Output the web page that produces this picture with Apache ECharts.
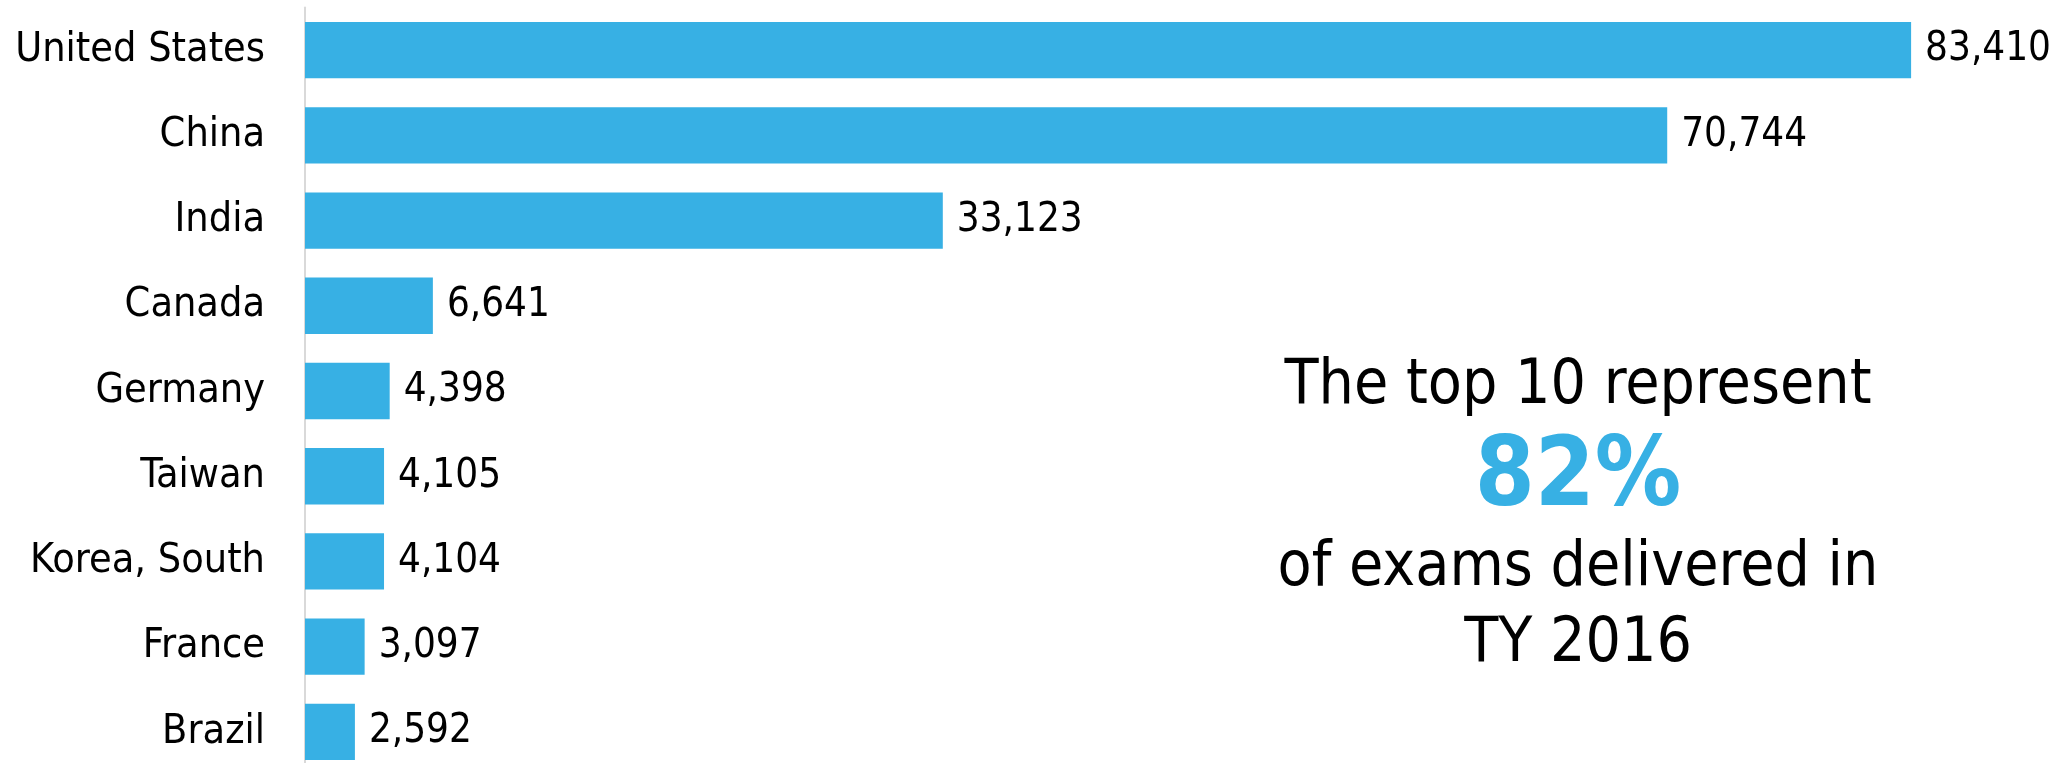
<!DOCTYPE html>
<html>
<head>
<meta charset="utf-8">
<title>Exams delivered by country, TY 2016</title>
<script src="https://cdn.jsdelivr.net/npm/echarts@6/dist/echarts.min.js"></script>
<style>
  html, body { margin: 0; padding: 0; background: #ffffff; }
  #chart { width: 2067px; height: 763px; }
</style>
</head>
<body>
<div id="chart"></div>
<script>
// Countries, ordered from largest to smallest exam count
const countries = ['United States', 'China', 'India', 'Canada', 'Germany', 'Taiwan', 'Korea, South', 'France', 'Brazil'];
// Exams delivered per country
const exams = [83410, 70744, 33123, 6641, 4398, 4105, 4104, 3097, 2592];
// Call-out text beside the bars
const noteLines = ['The top 10 represent', '82%', 'of exams delivered in', 'TY 2016'];

const BLUE = '#37b0e4';
const FONT = '"DejaVu Sans Condensed", "DejaVu Sans", sans-serif';

const chart = echarts.init(document.getElementById('chart'), null, { renderer: 'canvas' });

const fmt = v => v.toLocaleString('en-US');

chart.setOption({
  animation: false,
  backgroundColor: '#ffffff',
  grid: {
    left: 305,
    top: 7.4,
    width: 1733,
    height: 767.2,
    containLabel: false,
    outerBoundsMode: 'none'
  },
  xAxis: {
    type: 'value',
    min: 0,
    max: 90000,
    show: false
  },
  yAxis: {
    type: 'category',
    data: countries,
    inverse: true,
    axisLine: { show: true, lineStyle: { color: '#d9d9d9', width: 2 } },
    axisTick: { show: false },
    splitLine: { show: false },
    axisLabel: {
      color: '#000000',
      fontFamily: FONT,
      fontSize: 41,
      margin: 40
    }
  },
  series: [{
    type: 'bar',
    data: exams,
    barCategoryGap: '34%',
    itemStyle: { color: BLUE },
    label: {
      show: true,
      position: 'right',
      distance: 14,
      color: '#000000',
      fontFamily: FONT,
      fontSize: 40,
      formatter: p => fmt(p.value)
    }
  }],
  graphic: [
    {
      type: 'text', x: 1578, y: 387,
      style: { text: noteLines[0], font: '62px ' + FONT, fill: '#000000', align: 'center', verticalAlign: 'middle' }
    },
    {
      type: 'text', x: 1578, y: 480,
      style: { text: noteLines[1], font: 'bold 96px ' + FONT, fill: BLUE, align: 'center', verticalAlign: 'middle' }
    },
    {
      type: 'text', x: 1578, y: 569,
      style: { text: noteLines[2], font: '62px ' + FONT, fill: '#000000', align: 'center', verticalAlign: 'middle' }
    },
    {
      type: 'text', x: 1578, y: 645,
      style: { text: noteLines[3], font: '62px ' + FONT, fill: '#000000', align: 'center', verticalAlign: 'middle' }
    }
  ]
});
</script>
</body>
</html>
